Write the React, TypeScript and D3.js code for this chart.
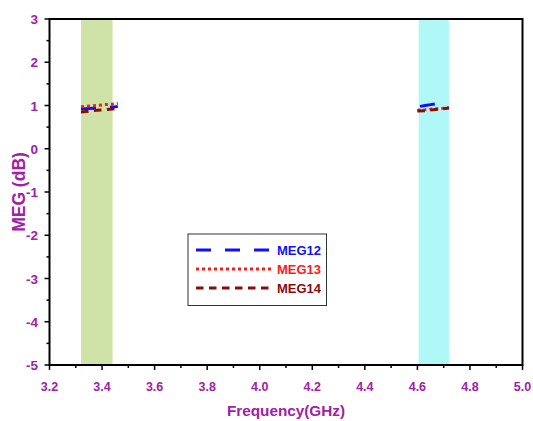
import React from "react";
import * as d3 from "d3";

// Frequency bands highlighted on the plot (GHz)
const bandLow = [3.32, 3.44];
const bandHigh = [4.605, 4.72];

// MEG traces around the two operating bands
const freqLow = [3.32, 3.35, 3.38, 3.41, 3.44, 3.46];
const meg12Low = [0.92, 0.93, 0.94, 0.95, 0.96, 0.98];
const meg13Low = [0.97, 0.99, 1.0, 1.02, 1.03, 1.05];
const meg14Low = [0.85, 0.87, 0.89, 0.9, 0.92, 0.94];

const freqHigh12 = [4.61, 4.63, 4.65, 4.67];
const meg12High = [0.98, 1.0, 1.02, 1.04];
const freqHigh = [4.6, 4.63, 4.66, 4.69, 4.72];
const meg13High = [0.89, 0.9, 0.92, 0.93, 0.95];
const meg14High = [0.87, 0.88, 0.9, 0.92, 0.94];

const xTicks = [3.2, 3.4, 3.6, 3.8, 4.0, 4.2, 4.4, 4.6, 4.8, 5.0];
const yTicks = [3, 2, 1, 0, -1, -2, -3, -4, -5];

const seriesNames = ["MEG12", "MEG13", "MEG14"];
const seriesColors = ["#1010ff", "#ff1a1a", "#8b0a0a"];
const seriesDash = ["15,14", "3,3", "7.5,5.5"];

const W = 533;
const H = 421;
const M = { left: 49.5, right: 10.5, top: 19, bottom: 56 };
const purple = "#a020a8";
const font = "Arial, 'Liberation Sans', sans-serif";

export default function App() {
  const x = d3.scaleLinear().domain([3.2, 5.0]).range([M.left, W - M.right]);
  const y = d3.scaleLinear().domain([-5, 3]).range([H - M.bottom, M.top]);
  const line = d3
    .line<[number, number]>()
    .x((d) => x(d[0]))
    .y((d) => y(d[1]));

  const lowSets = [meg12Low, meg13Low, meg14Low];
  const highFreqs = [freqHigh12, freqHigh, freqHigh];
  const highSets = [meg12High, meg13High, meg14High];

  const xMinor = d3.range(3.3, 5.0, 0.2);
  const yMinor = d3.range(-4.5, 3, 1);

  const legendX = 188;
  const legendY = 234;
  const legendRows = [250, 269, 288];

  return (
    <svg
      width={W}
      height={H}
      style={{ position: "absolute", left: 0, top: 0 }}
      fontFamily={font}
    >
      <rect width={W} height={H} fill="#fff" />
      {/* highlighted bands */}
      <rect
        x={x(bandLow[0])}
        y={y(3)}
        width={x(bandLow[1]) - x(bandLow[0])}
        height={y(-5) - y(3)}
        fill="#cfe3a8"
      />
      <rect
        x={x(bandHigh[0])}
        y={y(3)}
        width={x(bandHigh[1]) - x(bandHigh[0])}
        height={y(-5) - y(3)}
        fill="#b0f8f8"
      />

      {/* traces */}
      {seriesNames.map((name, i) => (
        <g key={name}>
          <path
            d={line(freqLow.map((f, j) => [f, lowSets[i][j]]) as [number, number][]) || ""}
            fill="none"
            stroke={seriesColors[i]}
            strokeWidth={3}
            strokeDasharray={seriesDash[i]}
          />
          <path
            d={line(highFreqs[i].map((f, j) => [f, highSets[i][j]]) as [number, number][]) || ""}
            fill="none"
            stroke={seriesColors[i]}
            strokeWidth={3}
            strokeDasharray={seriesDash[i]}
          />
        </g>
      ))}

      {/* frame */}
      <rect
        x={x(3.2)}
        y={y(3)}
        width={x(5.0) - x(3.2)}
        height={y(-5) - y(3)}
        fill="none"
        stroke="#000"
        strokeWidth={2}
      />

      {/* x ticks */}
      {xTicks.map((t) => (
        <g key={"xt" + t}>
          <line x1={x(t)} x2={x(t)} y1={y(-5)} y2={y(-5) + 5} stroke="#000" strokeWidth={1.5} />
          <text
            x={x(t)}
            y={y(-5) + 26}
            textAnchor="middle"
            fontSize={12.5}
            fontWeight="bold"
            fill={purple}
          >
            {t.toFixed(1)}
          </text>
        </g>
      ))}
      {xMinor.map((t) => (
        <line key={"xm" + t} x1={x(t)} x2={x(t)} y1={y(-5)} y2={y(-5) + 3} stroke="#000" strokeWidth={1.5} />
      ))}

      {/* y ticks */}
      {yTicks.map((t) => (
        <g key={"yt" + t}>
          <line x1={x(3.2) - 5} x2={x(3.2)} y1={y(t)} y2={y(t)} stroke="#000" strokeWidth={1.5} />
          <text
            x={x(3.2) - 11.5}
            y={y(t) + 5}
            textAnchor="end"
            fontSize={13.5}
            fontWeight="bold"
            fill={purple}
          >
            {t}
          </text>
        </g>
      ))}
      {yMinor.map((t) => (
        <line key={"ym" + t} x1={x(3.2) - 3} x2={x(3.2)} y1={y(t)} y2={y(t)} stroke="#000" strokeWidth={1.5} />
      ))}

      {/* axis titles */}
      <text
        x={(x(3.2) + x(5.0)) / 2}
        y={416}
        textAnchor="middle"
        fontSize={15.3}
        fontWeight="bold"
        fill={purple}
      >
        Frequency(GHz)
      </text>
      <text
        transform={`translate(25, ${(y(3) + y(-5)) / 2}) rotate(-90)`}
        textAnchor="middle"
        fontSize={17.5}
        fontWeight="bold"
        fill={purple}
      >
        MEG (dB)
      </text>

      {/* legend */}
      <rect x={legendX} y={legendY} width={138.5} height={71.5} fill="#fff" stroke="#333" strokeWidth={1} />
      {seriesNames.map((name, i) => (
        <g key={"lg" + name}>
          <line
            x1={196}
            x2={271}
            y1={legendRows[i]}
            y2={legendRows[i]}
            stroke={seriesColors[i]}
            strokeWidth={3}
            strokeDasharray={seriesDash[i]}
          />
          <text x={277} y={legendRows[i] + 5} fontSize={13} fontWeight="bold" fill={seriesColors[i]}>
            {name}
          </text>
        </g>
      ))}
    </svg>
  );
}
